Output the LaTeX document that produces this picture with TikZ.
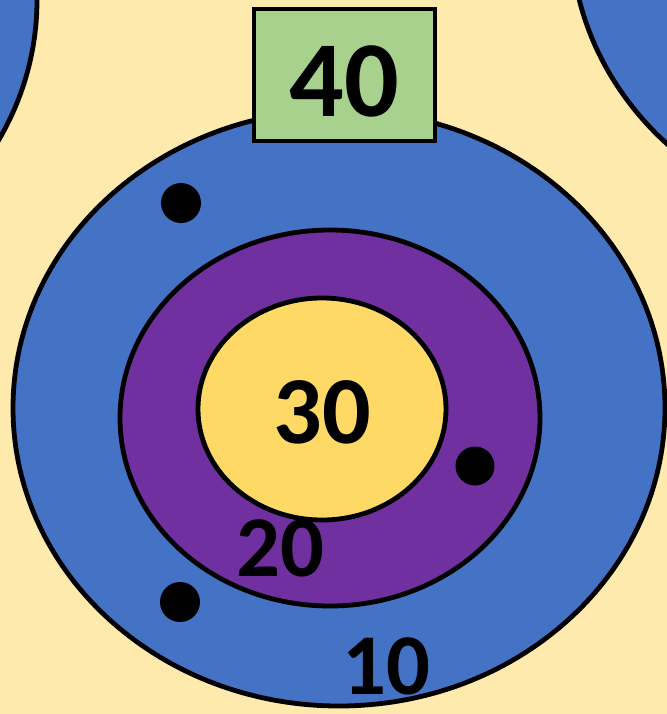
\documentclass[tikz,border=0pt]{standalone}
\usepackage{fontspec}
\setmainfont{Carlito}
\definecolor{bgcream}{HTML}{FFEAAE}
\definecolor{ringblue}{HTML}{4472C4}
\definecolor{ringpurple}{HTML}{7030A0}
\definecolor{ringgold}{HTML}{FFD966}
\definecolor{boxgreen}{HTML}{A9D18E}
\newcommand{\scoresize}[1]{\fontsize{#1}{#1}\selectfont\bfseries}
\begin{document}
\begin{tikzpicture}[x=0.75pt, y=-0.75pt, line width=3.4pt,
		ring/.style={draw=black, line width=3.6pt},
		hit/.style={fill=black},
		score/.style={inner sep=0pt, text=black}]
				\clip (0,0) rectangle (667,714);
				\fill[bgcream] (0,0) rectangle (667,714);
				\coordinate (Cleft)   at (-290,0);
				\coordinate (Cright)  at (898,-67);
				\coordinate (Couter)  at (339,408);
				\coordinate (Cmid)    at (330,418);
				\coordinate (Cinner)  at (322,409);
				% neighbouring targets, cut by the frame
				\filldraw[ring, fill=ringblue] (Cleft)  ellipse [x radius=327, y radius=298];
				\filldraw[ring, fill=ringblue] (Cright) ellipse [x radius=327, y radius=298];
				% rings of the target
				\filldraw[ring, fill=ringblue]   (Couter) ellipse [x radius=326, y radius=298];
				\filldraw[ring, fill=ringpurple] (Cmid)   ellipse [x radius=210, y radius=188];
				\filldraw[ring, fill=ringgold]   (Cinner) ellipse [x radius=124, y radius=111];
				\node[draw=black, line width=3.2pt, fill=boxgreen, minimum width=136pt, minimum height=99pt] (bonus) at (344.5,75) {};
				\node[score, font=\scoresize{81}] (lbl40) at (344,81)  {40};
				\node[score, font=\scoresize{72}] (lbl30) at (322,412) {30};
				\node[score, font=\scoresize{65}] (lbl20) at (280,548) {20};
				\node[score, font=\scoresize{65}] (lbl10) at (386,666) {10};
				\fill[hit] (181,203) circle (20);
				\fill[hit] (475,466) circle (19.5);
				\fill[hit] (180,602) circle (20);
		\end{tikzpicture}
\end{document}
